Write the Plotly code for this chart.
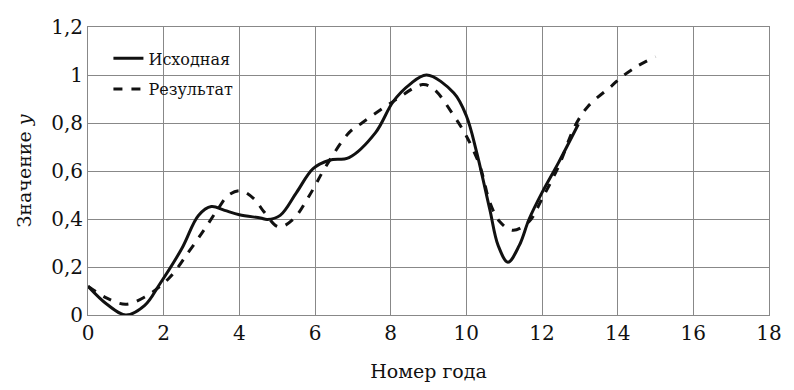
import plotly.graph_objects as go

# Исходная (original series)
x_orig = [0, 0.5, 1.0, 1.5, 1.88, 2.48, 2.92, 3.26, 3.61, 4.0, 4.56, 4.74, 5.08, 5.51, 5.95, 6.38, 6.9, 7.6, 8.07, 8.5, 8.95, 9.67, 10.0, 10.27, 10.62, 10.84, 11.1, 11.4, 11.66, 12.0, 12.44, 12.96]
y_orig = [0.12, 0.045, 0.0, 0.04, 0.125, 0.277, 0.415, 0.452, 0.436, 0.418, 0.404, 0.398, 0.415, 0.51, 0.61, 0.645, 0.656, 0.76, 0.89, 0.96, 1.0, 0.925, 0.83, 0.68, 0.44, 0.29, 0.22, 0.29, 0.40, 0.51, 0.636, 0.795]

# Результат (result series)
x_res = [0, 0.5, 1.0, 1.5, 2.14, 2.66, 3.09, 3.44, 3.70, 4.03, 4.39, 4.65, 5.04, 5.43, 5.86, 6.29, 6.9, 7.24, 8.07, 8.85, 9.15, 9.67, 10.0, 10.36, 10.62, 10.88, 11.23, 11.66, 12.0, 12.44, 12.87, 13.22, 13.83, 14.09, 14.5, 15.0]
y_res = [0.12, 0.07, 0.045, 0.075, 0.153, 0.263, 0.36, 0.443, 0.498, 0.518, 0.484, 0.43, 0.367, 0.40, 0.50, 0.62, 0.76, 0.80, 0.89, 0.96, 0.94, 0.83, 0.746, 0.62, 0.47, 0.39, 0.353, 0.39, 0.484, 0.62, 0.787, 0.87, 0.953, 0.99, 1.035, 1.077]

x_ticks = [0, 2, 4, 6, 8, 10, 12, 14, 16, 18]
y_ticks = [0, 0.2, 0.4, 0.6, 0.8, 1.0, 1.2]
y_tick_text = ["0", "0,2", "0,4", "0,6", "0,8", "1", "1,2"]

FONT = "DejaVu Serif"

fig = go.Figure()
fig.add_trace(go.Scatter(x=x_orig, y=y_orig, mode="lines", name="Исходная", legendgroup="a",
                         line=dict(color="#111111", width=3, shape="spline", smoothing=1.0)))
fig.add_trace(go.Scatter(x=x_res, y=y_res, mode="lines", name="Результат", legendgroup="b",
                         line=dict(color="#111111", width=3, dash="dash", shape="spline", smoothing=1.0)))

fig.update_layout(
    width=794, height=390,
    margin=dict(l=88, r=13, t=27, b=73),
    paper_bgcolor="white", plot_bgcolor="white",
    font=dict(family=FONT, color="#111111", size=20),
    showlegend=True,
    legend=dict(x=0.03, y=0.95, xanchor="left", yanchor="top",
                bgcolor="rgba(0,0,0,0)", font=dict(size=16, family=FONT, color="#111111"),
                tracegroupgap=7),
    xaxis=dict(range=[0, 18], tickvals=x_ticks, ticktext=[str(v) for v in x_ticks],
               showgrid=True, gridcolor="#888888", gridwidth=1,
               showline=True, linecolor="#888888", linewidth=1, mirror=True,
               zeroline=False, ticks="", tickfont=dict(size=20, family=FONT, color="#111111"),
               title=dict(text="Номер года", font=dict(size=19, family=FONT, color="#111111"), standoff=20)),
    yaxis=dict(range=[0, 1.2], tickvals=y_ticks, ticktext=y_tick_text,
               showgrid=True, gridcolor="#888888", gridwidth=1,
               showline=True, linecolor="#888888", linewidth=1, mirror=True,
               zeroline=False, ticks="", tickfont=dict(size=20, family=FONT, color="#111111"),
               title=dict(text="Значение <i>y</i>", font=dict(size=19, family=FONT, color="#111111"), standoff=14)),
)

fig.write_html("out.html")
